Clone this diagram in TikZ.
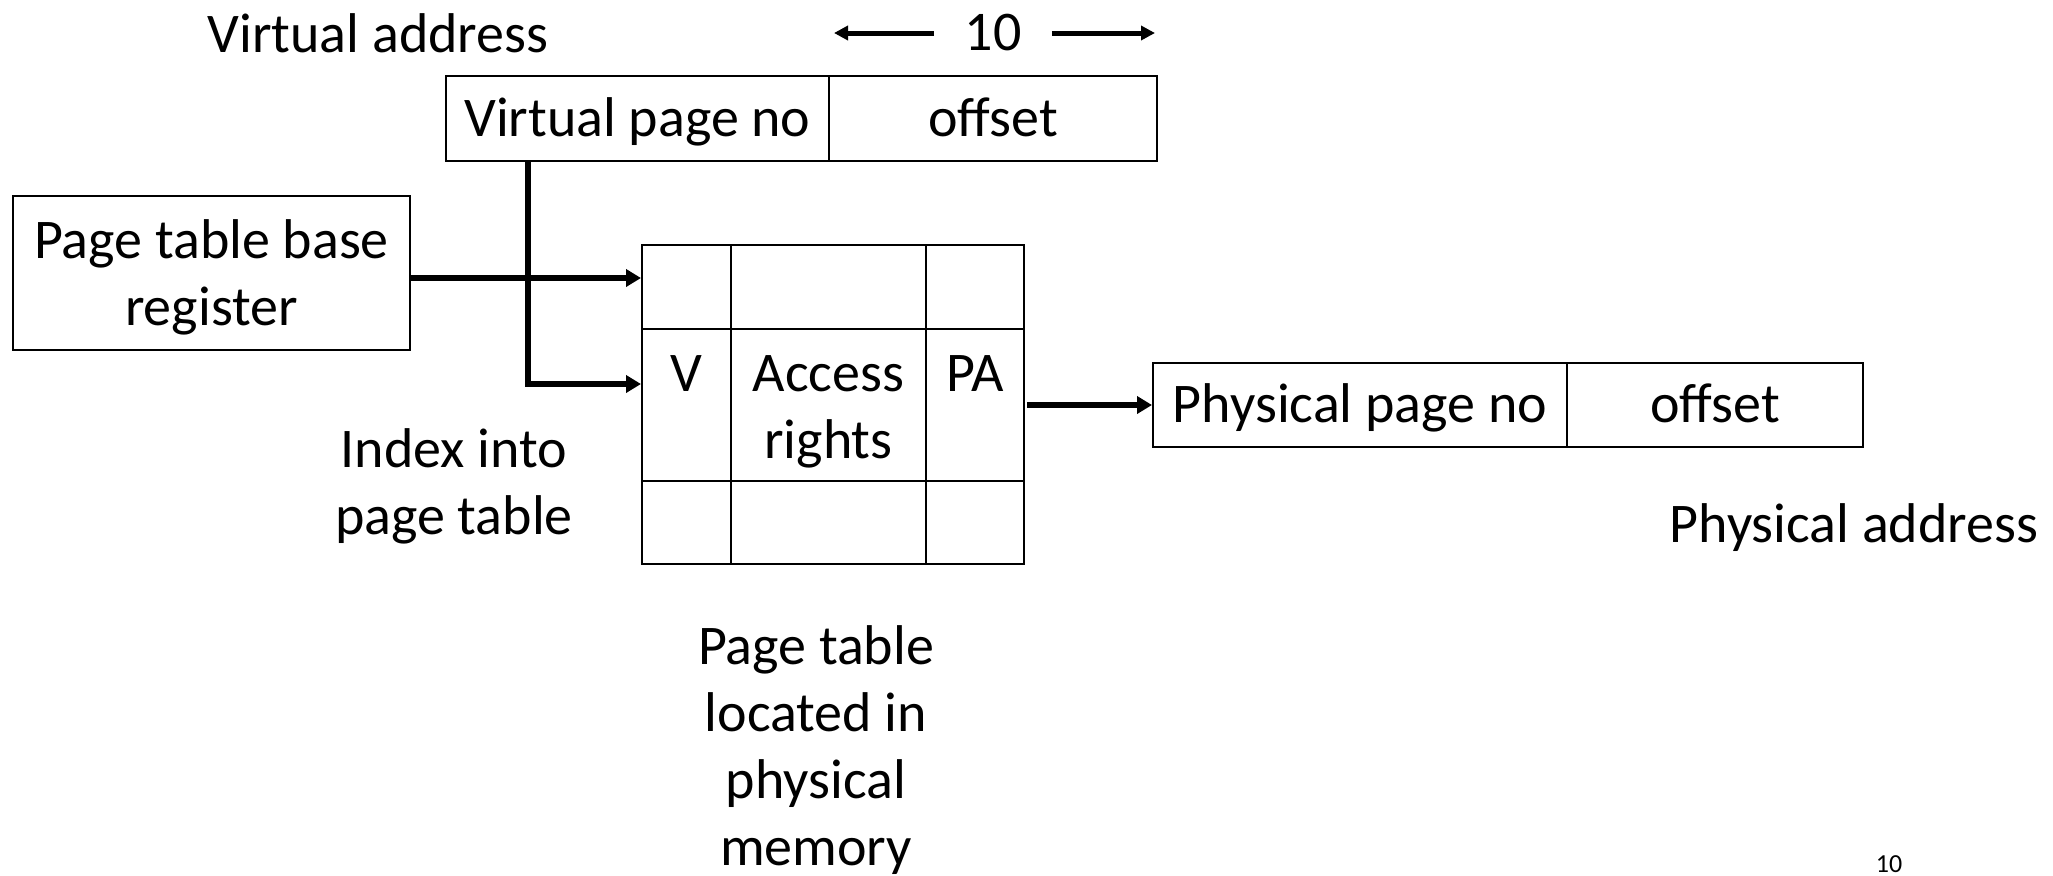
\documentclass[tikz,border=0pt]{standalone}
\usepackage{fontspec}
\setmainfont{Carlito}
\usetikzlibrary{arrows.meta}
\begin{document}
\begin{tikzpicture}[x=0.5pt,y=-0.5pt,
  lbl/.style={inner sep=0pt, font=\fontsize{28}{33.5}\selectfont, align=center},
  box/.style={draw, line width=1pt, inner sep=0pt},
  field/.style={box, font=\fontsize{28}{33.5}\selectfont, text height=22.4pt, text depth=4.7pt},
  cell/.style={box},
  flow/.style={line width=2.75pt, -{Triangle[length=7.5pt,width=8.5pt]}},
  span/.style={line width=2.5pt, -{Triangle[length=7pt,width=7pt]}}]
\useasboundingbox (0,0) rectangle (2053,875);

% virtual address fields
\node[lbl] (vaddr) at (378,33) {Virtual address};
\node[lbl] (ten) at (993,33) {10};
\coordinate (lefttip) at (834,33);
\coordinate (righttip) at (1155,33);
\draw[span] ([xshift=-15pt]ten.west) -- (lefttip);
\draw[span] ([xshift=15pt]ten.east) -- (righttip);
\node[field, minimum width=191.5pt, minimum height=42.5pt] (vpn) at (637.5,118.5) {Virtual page no};
\node[field, minimum width=164pt, minimum height=42.5pt] (voff) at (993,118.5) {offset};

% base register
\node[box, minimum width=198.5pt, minimum height=77pt] (ptbr) at (211.5,273) {};
\node[lbl] (ptbrtxt) at ([yshift=-2pt]ptbr.center) {Page table base\\register};

% page table grid
\foreach \r/\y/\h in {1/287/42, 2/405/76, 3/522.5/41.5}
  \foreach \c/\x/\w in {1/686.5/44.5, 2/828.5/97.5, 3/975/49}
    \node[cell, minimum width=\w pt, minimum height=\h pt] (c\r\c) at (\x,\y) {};
\node[lbl, anchor=north] (v) at (686.5,355) {V};
\node[lbl, anchor=north] (acc) at (828.5,355) {Access\\rights};
\node[lbl, anchor=north] (pa) at (975,355) {PA};

\node[lbl] (idx) at (454,486) {Index into\\page table};
\node[lbl] (ptloc) at (816,750) {Page table\\located in\\physical\\memory};

% physical address fields
\node[field, minimum width=207pt, minimum height=42pt] (ppn) at (1360,405) {Physical page no};
\node[field, minimum width=148pt, minimum height=42pt] (poff) at (1715,405) {offset};
\node[lbl] (paddr) at (1854,528) {Physical address};

\node[inner sep=0pt, font=\fontsize{13}{16}\selectfont] (pg) at (1889,864) {10};

% connectors
\draw[flow] ([yshift=-2.5pt]ptbr.east) -- ([yshift=-2.5pt]ptbr.east -| c11.west);
\coordinate (bend) at (528,384);
\draw[flow] (vpn.south -| bend) -- (bend) -- (bend -| c21.west);
\draw[flow] ([xshift=1pt]c23.east) -- (ppn.west);
\end{tikzpicture}
\end{document}
